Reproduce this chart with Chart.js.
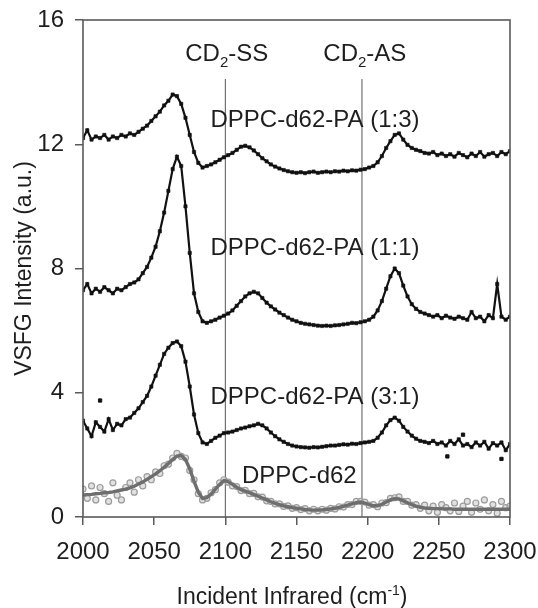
<!DOCTYPE html>
<html><head><meta charset="utf-8">
<script src="https://cdn.jsdelivr.net/npm/chart.js@4/dist/chart.umd.min.js"></script>
<style>html,body{margin:0;padding:0;background:#fff;}</style>
</head><body>
<canvas id="c" width="538" height="608"></canvas>
<script>
// ---- data ----
const wavenumbers = [
2000,2003,2006,2009,2012,2015,2018,2021,2024,2027,
2030,2033,2036,2039,2042,2045,2048,2051,2054,2057,
2060,2063,2066,2069,2072,2075,2078,2081,2084,2087,
2090,2093,2096,2099,2102,2105,2108,2111,2114,2117,
2120,2123,2126,2129,2132,2135,2138,2141,2144,2147,
2150,2153,2156,2159,2162,2165,2168,2171,2174,2177,
2180,2183,2186,2189,2192,2195,2198,2201,2204,2207,
2210,2213,2216,2219,2222,2225,2228,2231,2234,2237,
2240,2243,2246,2249,2252,2255,2258,2261,2264,2267,
2270,2273,2276,2279,2282,2285,2288,2291,2294,2297,2300];

const pa13 = [
12.2,12.45,12.15,12.25,12.2,12.3,12.15,12.25,12.2,12.3,
12.25,12.35,12.3,12.4,12.5,12.6,12.75,12.9,13.05,13.25,
13.4,13.6,13.55,13.3,12.85,12.3,11.75,11.4,11.25,11.3,
11.35,11.42,11.5,11.58,11.65,11.72,11.82,11.92,11.95,11.9,
11.8,11.68,11.55,11.45,11.35,11.28,11.22,11.17,11.13,11.1,
11.08,11.1,11.07,11.1,11.12,11.08,11.1,11.12,11.1,11.13,
11.12,11.15,11.13,11.16,11.15,11.18,11.2,11.25,11.3,11.42,
11.62,11.88,12.1,12.3,12.35,12.15,11.98,11.88,11.82,11.78,
11.72,11.7,11.75,11.65,11.7,11.62,11.68,11.6,11.72,11.65,
11.58,11.7,11.62,11.75,11.6,11.68,11.72,11.62,11.75,11.68,11.78];

const pa11 = [
7.3,7.5,7.2,7.35,7.25,7.4,7.3,7.2,7.35,7.3,
7.4,7.5,7.55,7.65,7.85,8.05,8.35,8.7,9.2,9.8,
10.5,11.2,11.6,11.3,10.0,8.5,7.2,6.6,6.3,6.25,
6.3,6.35,6.42,6.48,6.55,6.65,6.8,6.95,7.1,7.2,
7.25,7.2,7.05,6.9,6.78,6.68,6.58,6.5,6.42,6.35,
6.3,6.25,6.22,6.2,6.18,6.16,6.15,6.16,6.15,6.17,
6.18,6.2,6.22,6.25,6.24,6.27,6.3,6.35,6.45,6.65,
6.95,7.35,7.75,8.0,7.85,7.45,7.1,6.85,6.7,6.6,
6.55,6.5,6.45,6.5,6.4,6.48,6.42,6.38,6.45,6.4,
6.35,6.6,6.4,6.45,6.3,6.5,6.4,7.5,6.45,6.35,6.45];

const pa31 = [
3.1,2.85,2.6,3.05,2.9,2.75,3.15,2.8,3.0,2.95,
3.15,3.2,3.35,3.5,3.7,3.9,4.2,4.55,4.9,5.25,
5.45,5.6,5.65,5.5,5.0,4.2,3.3,2.7,2.4,2.35,
2.45,2.55,2.62,2.7,2.72,2.75,2.8,2.85,2.88,2.92,
2.95,3.0,2.95,2.85,2.72,2.6,2.5,2.42,2.35,2.3,
2.27,2.25,2.24,2.23,2.25,2.24,2.26,2.28,2.3,2.3,
2.32,2.34,2.33,2.36,2.35,2.38,2.4,2.42,2.45,2.55,
2.72,2.95,3.12,3.2,3.1,2.9,2.75,2.62,2.52,2.45,
2.42,2.38,2.45,2.35,2.4,2.3,2.45,2.35,2.5,2.3,
2.35,2.25,2.4,2.3,2.42,2.2,2.38,2.3,2.4,2.15,2.35];

const pa31StrayX = [2012, 2256, 2267, 2294];
const pa31StrayY = [3.75, 1.95, 2.65, 1.87];

const dppc = [
0.9,0.6,1.0,0.55,0.95,0.75,0.5,1.1,0.7,0.55,
0.95,1.1,0.8,1.2,1.0,1.3,1.2,1.45,1.4,1.65,
1.7,1.9,2.05,1.95,1.9,1.5,1.2,0.75,0.55,0.6,
0.78,0.88,1.1,1.2,1.12,1.0,0.98,0.85,0.86,0.75,
0.76,0.65,0.64,0.52,0.5,0.42,0.42,0.34,0.36,0.28,
0.3,0.24,0.27,0.2,0.25,0.2,0.25,0.22,0.28,0.26,
0.33,0.32,0.4,0.4,0.5,0.5,0.48,0.38,0.4,0.33,
0.45,0.46,0.6,0.62,0.65,0.5,0.5,0.38,0.4,0.28,
0.38,0.2,0.35,0.15,0.4,0.3,0.2,0.45,0.18,0.35,
0.5,0.15,0.45,0.25,0.55,0.2,0.4,0.12,0.5,0.3,0.35];

const dppcFit = [
0.71,0.72,0.73,0.75,0.76,0.78,0.79,0.81,0.84,0.87,
0.9,0.94,0.99,1.06,1.13,1.21,1.3,1.39,1.49,1.6,
1.72,1.85,1.96,1.98,1.85,1.55,1.15,0.8,0.6,0.62,
0.74,0.9,1.05,1.17,1.14,1.05,0.96,0.88,0.83,0.78,
0.73,0.67,0.61,0.55,0.49,0.44,0.4,0.36,0.33,0.3,
0.28,0.26,0.24,0.23,0.22,0.22,0.23,0.24,0.26,0.28,
0.31,0.34,0.38,0.42,0.46,0.48,0.45,0.4,0.36,0.36,
0.41,0.48,0.55,0.59,0.58,0.52,0.46,0.4,0.35,0.31,
0.29,0.28,0.27,0.27,0.26,0.26,0.26,0.25,0.25,0.25,
0.25,0.25,0.25,0.25,0.25,0.25,0.25,0.25,0.25,0.25,0.25];

const bandPositions = [2100, 2196];
const bandLineTop = 14.1;

const xTicks = [2000, 2050, 2100, 2150, 2200, 2250, 2300];
const yTicks = [0, 4, 8, 12, 16];

// ---- helpers ----
const pts = (ys) => wavenumbers.map((x, i) => ({x, y: ys[i]}));
const FONT = "'Liberation Sans', Arial, sans-serif";
const TEXT = '#1e1e1e';
const FS = 24;

const bandDatasets = bandPositions.map(p => ({
  data: [{x: p, y: 0}, {x: p, y: bandLineTop}],
  showLine: true, borderColor: '#555', borderWidth: 1, pointRadius: 0
}));

const blackStyle = {
  showLine: true, borderColor: '#111', borderWidth: 2.2,
  pointStyle: 'rect', pointRadius: 2.3, pointBackgroundColor: '#111',
  pointBorderColor: '#111', pointBorderWidth: 0.6
};

const labels = [
  {parts: [['CD', 0], ['2', 1], ['-SS', 0]], x: 2101, y: 14.94},
  {parts: [['CD', 0], ['2', 1], ['-AS', 0]], x: 2198, y: 14.94},
  {parts: [['DPPC-d62-PA (1:3)', 0]], x: 2163, y: 12.82},
  {parts: [['DPPC-d62-PA (1:1)', 0]], x: 2163, y: 8.71},
  {parts: [['DPPC-d62-PA (3:1)', 0]], x: 2163, y: 3.9},
  {parts: [['DPPC-d62', 0]], x: 2152, y: 1.38}
];

const decor = {
  id: 'decor',
  afterDraw(chart) {
    const {ctx, chartArea: a, scales: {x, y}} = chart;
    ctx.save();
    ctx.strokeStyle = '#5a5a5a';
    ctx.lineWidth = 1.6;
    ctx.strokeRect(a.left, a.top, a.right - a.left, a.bottom - a.top);
    ctx.fillStyle = TEXT;
    ctx.textBaseline = 'alphabetic';
    const big = FS + 'px ' + FONT, small = '15px ' + FONT;
    labels.forEach(l => {
      let w = 0;
      l.parts.forEach(([t, s]) => { ctx.font = s ? small : big; w += ctx.measureText(t).width; });
      let cx = x.getPixelForValue(l.x) - w / 2;
      const base = y.getPixelForValue(l.y) + 8.5;
      l.parts.forEach(([t, s]) => {
        ctx.font = s ? small : big;
        ctx.fillText(t, cx, s ? base + 6 : base);
        cx += ctx.measureText(t).width;
      });
    });
    const tBig = '23px ' + FONT, tSmall = '14px ' + FONT;
    const parts = [['Incident Infrared (cm', 0], ['-1', 1], [')', 0]];
    let w = 0;
    parts.forEach(([t, s]) => { ctx.font = s ? tSmall : tBig; w += ctx.measureText(t).width; });
    let cx = 292 - w / 2;
    parts.forEach(([t, s]) => {
      ctx.font = s ? tSmall : tBig;
      ctx.fillText(t, cx, s ? 595 : 604);
      cx += ctx.measureText(t).width;
    });
    ctx.restore();
  }
};

new Chart(document.getElementById('c'), {
  type: 'scatter',
  data: {
    datasets: [
      {data: pts(dppcFit), showLine: true, borderColor: '#6e6e6e', borderWidth: 3.4, pointRadius: 0},
      {data: pts(dppc), showLine: false, pointRadius: 3, pointStyle: 'circle',
       pointBorderColor: '#9c9c9c', pointBackgroundColor: 'rgba(205,205,205,0.6)', pointBorderWidth: 1.2},
      {data: pts(pa13), ...blackStyle},
      {data: pts(pa11), ...blackStyle},
      {data: pts(pa31), ...blackStyle},
      {data: pa31StrayX.map((x, i) => ({x, y: pa31StrayY[i]})), showLine: false,
       pointStyle: 'rect', pointRadius: 2.3, pointBackgroundColor: '#111', pointBorderColor: '#111'},
      ...bandDatasets
    ]
  },
  options: {
    responsive: false,
    devicePixelRatio: 1,
    animation: false,
    layout: {padding: {top: 20, right: 28, left: 0, bottom: 0}},
    plugins: {legend: {display: false}, tooltip: {enabled: false}},
    elements: {line: {tension: 0}},
    scales: {
      x: {
        type: 'linear', min: 2000, max: 2300,
        afterFit: s => { s.height = 91; s.paddingRight = 0; s.paddingLeft = 0; },
        afterBuildTicks: s => { s.ticks = xTicks.map(v => ({value: v})); },
        border: {display: false},
        grid: {drawOnChartArea: false, drawTicks: true, tickLength: 8, color: '#5a5a5a', lineWidth: 1.5},
        ticks: {color: TEXT, font: {family: FONT, size: FS}, padding: 13, maxRotation: 0,
                callback: v => String(v)}
      },
      y: {
        type: 'linear', min: 0, max: 16,
        afterFit: s => { s.width = 83; s.paddingTop = 0; s.paddingBottom = 0; },
        afterBuildTicks: s => { s.ticks = yTicks.map(v => ({value: v})); },
        border: {display: false},
        grid: {drawOnChartArea: false, drawTicks: true, tickLength: 8, color: '#5a5a5a', lineWidth: 1.5},
        ticks: {color: TEXT, font: {family: FONT, size: FS}, padding: 11, callback: v => String(v)},
        title: {display: true, text: 'VSFG Intensity (a.u.)', color: TEXT,
                font: {family: FONT, size: 23}, padding: {top: 11, bottom: 0}}
      }
    }
  },
  plugins: [decor]
});
</script>
</body></html>
